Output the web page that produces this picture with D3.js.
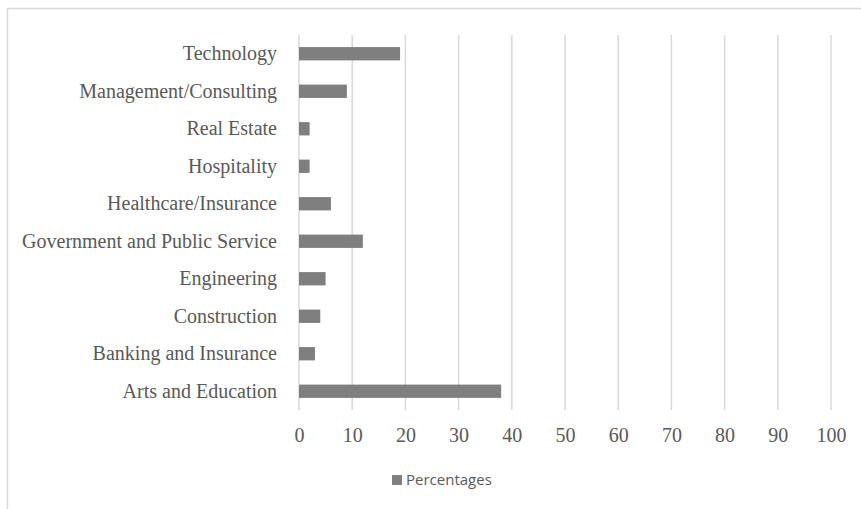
<!DOCTYPE html>
<html>
<head>
<meta charset="utf-8">
<script src="https://cdn.jsdelivr.net/npm/d3@7"></script>
<style>
  html, body { margin: 0; padding: 0; background: #fff; }
  svg { display: block; }
</style>
</head>
<body>
<svg id="chart" width="861" height="509"></svg>
<script>
const categories = [
  "Technology",
  "Management/Consulting",
  "Real Estate",
  "Hospitality",
  "Healthcare/Insurance",
  "Government and Public Service",
  "Engineering",
  "Construction",
  "Banking and Insurance",
  "Arts and Education"
];
const percentages = [19, 9, 2, 2, 6, 12, 5, 4, 3, 38];
const xTicks = [0, 10, 20, 30, 40, 50, 60, 70, 80, 90, 100];
const seriesName = "Percentages";

const svg = d3.select("#chart");
const W = 861, H = 509;
const plot = { left: 299, right: 831, top: 35, bottom: 410 };

// outer border (top and left visible)
svg.append("path")
  .attr("d", `M7.5,${H} V8.5 H${W}`)
  .attr("fill", "none")
  .attr("stroke", "#d9d9d9")
  .attr("stroke-width", 1.5);

const x = d3.scaleLinear().domain([0, 100]).range([plot.left, plot.right]);
const y = d3.scaleBand().domain(categories).range([plot.top, plot.bottom]).paddingInner(0.645).paddingOuter(0.3225);

// gridlines
svg.append("g")
  .selectAll("line")
  .data(xTicks)
  .join("line")
  .attr("x1", d => x(d)).attr("x2", d => x(d))
  .attr("y1", plot.top).attr("y2", plot.bottom)
  .attr("stroke", "#d9d9d9")
  .attr("stroke-width", 1.5);

// x axis labels
const xAxis = d3.axisBottom(x).tickValues(xTicks).tickSize(0).tickPadding(0);
const gx = svg.append("g").attr("transform", `translate(0,${plot.bottom})`).call(xAxis);
gx.select(".domain").remove();
gx.selectAll("text")
  .attr("y", 32)
  .attr("dy", 0)
  .attr("fill", "#595959")
  .style("font-family", "'Liberation Serif', 'Times New Roman', serif")
  .style("font-size", "20px");

// bars
svg.append("g")
  .selectAll("rect")
  .data(categories.map((c, i) => ({ c, v: percentages[i] })))
  .join("rect")
  .attr("x", x(0))
  .attr("y", d => y(d.c))
  .attr("width", d => x(d.v) - x(0))
  .attr("height", y.bandwidth())
  .attr("fill", "#7f7f7f");

// category labels
const yAxis = d3.axisLeft(y).tickSize(0).tickPadding(0);
const gy = svg.append("g").attr("transform", `translate(277,0)`).call(yAxis);
gy.select(".domain").remove();
gy.selectAll("text")
  .attr("x", 0)
  .attr("dy", "0.32em")
  .attr("fill", "#595959")
  .style("font-family", "'Liberation Serif', 'Times New Roman', serif")
  .style("font-size", "20px");

// legend
const lg = svg.append("g").attr("transform", "translate(392,480)");
lg.append("rect").attr("x", 0).attr("y", -5).attr("width", 10).attr("height", 10).attr("fill", "#7f7f7f");
lg.append("text")
  .attr("x", 14).attr("y", 0).attr("dy", "0.35em")
  .attr("fill", "#595959")
  .style("font-family", "'Open Sans', 'Noto Sans', sans-serif")
  .style("font-size", "15px")
  .text(seriesName);
</script>
</body>
</html>
